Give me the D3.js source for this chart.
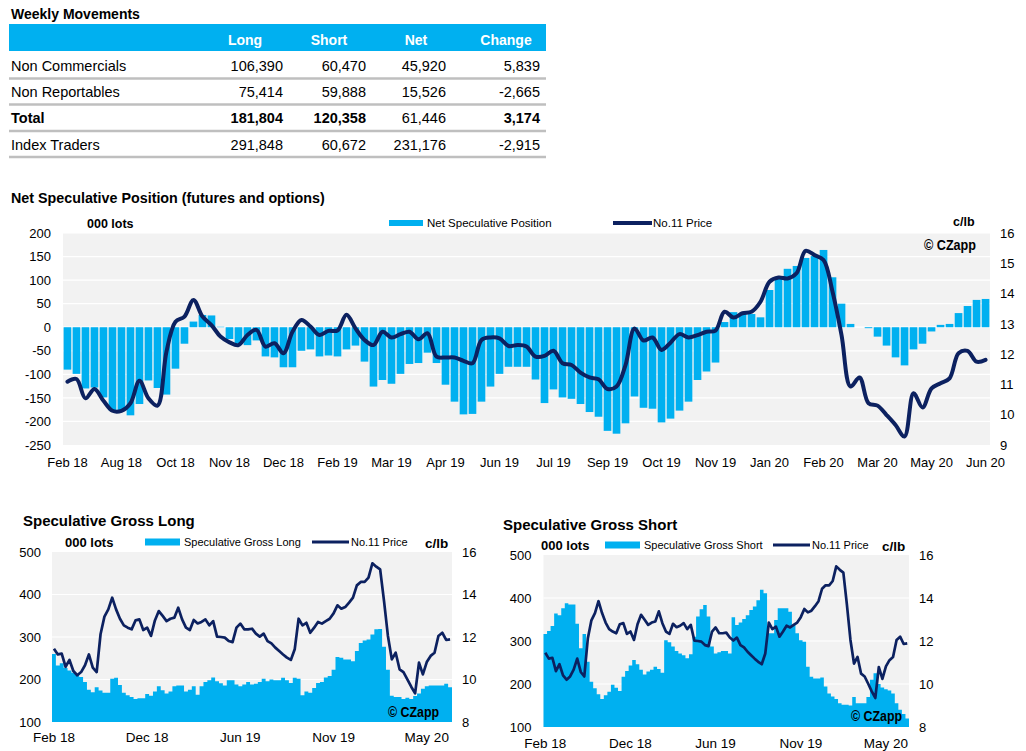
<!DOCTYPE html>
<html><head><meta charset="utf-8">
<script src="https://cdn.jsdelivr.net/npm/d3@7"></script>
<style>
body{margin:0;background:#fff;}
svg{display:block;font-family:"Liberation Sans",Arial,sans-serif;}
</style></head><body>
<svg id="c" width="1026" height="751"></svg>
<script>
// ---------------- DATA ----------------
const tableColumns = ["Long","Short","Net","Change"];
const tableRows = ["Non Commercials","Non Reportables","Total","Index Traders"];
const tableLong   = [106390, 75414, 181804, 291848];
const tableShort  = [60470, 59888, 120358, 60672];
const tableNet    = [45920, 15526, 61446, 231176];
const tableChange = [5839, -2665, 3174, -2915];

const mainTickLabels = ["Feb 18","Aug 18","Oct 18","Nov 18","Dec 18","Feb 19","Mar 19","Apr 19","Jun 19",
  "Jul 19","Sep 19","Oct 19","Nov 19","Jan 20","Feb 20","Mar 20","May 20","Jun 20"];
const grossTickLabels = ["Feb 18","Dec 18","Jun 19","Nov 19","May 20"];

// Net speculative position, 000 lots (weekly)
const netPosition = [-90,-99,-130,-128,-149,-177,-177,-187,-163,-113,
 -129,-143,-88,-35,12,26,25,1,-25,-35,
 -38,-28,-62,-64,-85,-85,-50,-47,-62,-60,
 -62,-47,-39,-73,-126,-112,-120,-99,-78,-76,
 -54,-76,-122,-158,-185,-184,-158,-126,-99,-84,
 -84,-84,-111,-161,-132,-149,-152,-163,-180,-190,
 -220,-226,-204,-147,-171,-173,-202,-194,-177,-158,
 -112,-94,-75,11,32,28,28,21,79,103,
 124,130,147,151,164,106,50,7,0,-2,
 -20,-39,-64,-81,-47,-35,-9,5,7,30,
 45,58,60];
// No.11 price c/lb (main chart)
const priceMain = [11.09,11.18,10.54,10.85,10.46,10.13,10.13,10.38,11.12,10.54,
 10.30,12.08,13.07,13.24,13.79,13.24,12.96,12.58,12.39,12.30,
 12.63,12.80,12.25,12.36,12.03,12.74,13.13,12.91,12.63,12.77,
 12.78,13.30,12.85,12.47,12.30,12.74,12.55,12.66,12.74,12.49,
 12.69,11.92,11.89,11.89,11.78,11.70,12.47,12.55,12.52,12.27,
 12.30,12.25,11.92,11.94,12.11,11.70,11.64,11.39,11.23,11.17,
 10.85,10.93,11.64,12.85,12.45,12.55,12.14,12.38,12.66,12.55,
 12.63,12.74,12.78,13.40,13.21,13.35,13.40,13.73,14.39,14.53,
 14.50,14.67,15.41,15.27,15.11,14.06,12.63,10.93,11.23,10.38,
 10.30,9.99,9.66,9.28,10.71,10.24,10.87,11.04,11.20,12.03,
 12.11,11.75,11.81];
// Speculative gross long, 000 lots
const grossLong = [260,233,238,227,221,216,212,206,194,176,
 170,182,174,169,169,202,204,187,169,163,
 159,154,156,156,166,162,172,184,175,167,
 172,184,186,186,172,176,184,164,184,194,
 198,205,196,191,186,198,198,188,184,188,
 194,188,190,194,202,196,200,198,198,204,
 198,192,204,202,163,172,169,180,192,194,
 205,208,223,253,251,247,247,243,267,286,
 292,294,306,318,319,277,223,162,159,159,
 154,157,154,161,167,178,184,186,186,186,
 186,190,182];
// Speculative gross short, 000 lots
const grossShort = [316,323,335,364,360,376,388,385,385,340,
 283,316,252,205,190,176,165,174,182,198,
 191,184,217,230,243,256,246,233,222,229,
 233,240,235,226,302,297,287,277,271,267,
 260,269,310,357,374,384,357,287,271,274,
 277,277,271,355,337,343,351,360,372,380,
 395,419,411,318,318,349,376,376,376,368,
 337,318,302,298,240,217,213,213,215,194,
 178,171,165,155,152,152,150,170,155,155,
 155,170,210,225,200,192,188,185,178,155,
 140,130,120];
// No.11 price c/lb (gross charts)
const priceGross = [11.45,11.18,11.22,10.60,10.92,10.40,10.20,10.35,10.67,11.18,
 10.56,10.35,12.13,12.96,13.30,13.85,13.30,12.86,12.55,12.44,
 12.36,12.78,12.83,12.33,12.44,12.05,12.78,13.22,12.99,12.75,
 12.86,12.91,13.38,12.83,12.44,12.33,12.80,12.64,12.71,12.83,
 12.55,12.75,12.02,12.00,11.97,11.81,11.76,12.44,12.63,12.36,
 12.36,12.39,12.16,12.02,12.16,11.81,11.70,11.50,11.34,11.18,
 11.03,10.92,11.42,12.86,12.55,12.67,12.20,12.44,12.71,12.63,
 12.75,12.86,13.11,13.49,13.33,13.41,13.62,13.85,14.43,14.59,
 14.59,14.79,15.47,15.31,15.18,13.69,12.05,10.95,11.26,10.48,
 10.35,10.01,9.66,9.35,10.79,10.24,10.82,11.11,11.26,12.05,
 12.20,11.86,11.89];

// ---------------- STYLE ----------------
const BLUE = "#00B0F0", NAVY = "#0C2160", BG = "#F2F2F2", GRID = "#FFFFFF";
const svg = d3.select("#c");

function txt(x, y, s, opt = {}) {
  const t = svg.append("text").attr("x", x).attr("y", y)
    .attr("font-size", opt.size || 13)
    .attr("font-weight", opt.bold ? "bold" : "normal")
    .attr("text-anchor", opt.anchor || "start")
    .attr("fill", opt.fill || "#000")
    .text(s);
  if (opt.len) t.attr("textLength", opt.len).attr("lengthAdjust", "spacingAndGlyphs");
  return t;
}
function styleAxis(g, size) {
  g.select(".domain").remove();
  g.selectAll("line").remove();
  g.selectAll("text").attr("font-size", size).attr("fill", "#000")
    .style("font-family", '"Liberation Sans", Arial, sans-serif');
}
const fmtNum = d3.format(",");
const fmt = v => (v < 0 ? "-" : "") + fmtNum(Math.abs(v));
const plain = d => String(d);

// ---------------- TABLE ----------------
txt(11, 19, "Weekly Movements", {bold: true, size: 14});
svg.append("rect").attr("x", 9).attr("y", 24).attr("width", 537).attr("height", 27).attr("fill", BLUE);
const headCenter = [245, 329, 416, 506];
const colRight = [283, 366, 446, 540];
tableColumns.forEach((c, j) => txt(headCenter[j], 45, c, {bold: true, size: 14, anchor: "middle", fill: "#fff"}));
const rowBase = [71, 97, 123, 150];
const rowLine = [78.5, 104.5, 131, 157];
const cols = [tableLong, tableShort, tableNet, tableChange];
tableRows.forEach((r, i) => {
  const isTotal = r === "Total";
  txt(11, rowBase[i], r, {size: 14.5, bold: isTotal});
  cols.forEach((arr, j) => {
    txt(colRight[j], rowBase[i], fmt(arr[i]), {size: 14.5, anchor: "end", bold: isTotal && j !== 2});
  });
  svg.append("line").attr("x1", 9).attr("x2", 546).attr("y1", rowLine[i]).attr("y2", rowLine[i])
    .attr("stroke", "#BFBFBF").attr("stroke-width", 2.5);
});

// ---------------- MAIN CHART ----------------
(function () {
  const L = 63, R = 990, T = 233, B = 445;
  txt(11, 203, "Net Speculative Position (futures and options)", {bold: true, size: 14.3});
  txt(87, 228, "000 lots", {bold: true, size: 12.5});
  txt(953, 226, "c/lb", {bold: true, size: 12.5});
  // legend
  svg.append("rect").attr("x", 389).attr("y", 220).attr("width", 34).attr("height", 6).attr("fill", BLUE);
  txt(427, 227, "Net Speculative Position", {size: 11.5});
  svg.append("line").attr("x1", 613).attr("x2", 652).attr("y1", 223).attr("y2", 223)
    .attr("stroke", NAVY).attr("stroke-width", 4);
  txt(653, 227, "No.11 Price", {size: 11.5});

  const x = d3.scaleBand().domain(d3.range(netPosition.length)).range([L, R]).paddingInner(0.15).paddingOuter(0.07);
  const y = d3.scaleLinear().domain([-250, 200]).range([B, T]);
  const y2 = d3.scaleLinear().domain([9, 16]).range([B, T]);

  svg.append("rect").attr("x", L).attr("y", T).attr("width", R - L).attr("height", B - T).attr("fill", BG);
  svg.append("g").selectAll("line").data(d3.range(-200, 201, 50)).join("line")
    .attr("x1", L).attr("x2", R).attr("y1", d => y(d)).attr("y2", d => y(d))
    .attr("stroke", GRID).attr("stroke-width", 1.2);

  svg.append("g").selectAll("rect").data(netPosition).join("rect")
    .attr("x", (d, i) => x(i)).attr("width", x.bandwidth())
    .attr("y", d => Math.min(y(0), y(d))).attr("height", d => Math.abs(y(d) - y(0)))
    .attr("fill", BLUE);

  const line = d3.line().x((d, i) => x(i) + x.bandwidth() / 2).y(d => y2(d)).curve(d3.curveCatmullRom.alpha(0.5));
  svg.append("path").datum(priceMain).attr("d", line).attr("fill", "none")
    .attr("stroke", NAVY).attr("stroke-width", 4).attr("stroke-linejoin", "round").attr("stroke-linecap", "round");

  txt(924, 250, "© CZapp", {bold: true, size: 14, len: 52});

  styleAxis(svg.append("g").attr("transform", `translate(${L},0)`)
    .call(d3.axisLeft(y).tickValues(d3.range(-250, 201, 50)).tickFormat(plain).tickSize(0).tickPadding(12)), 13);
  styleAxis(svg.append("g").attr("transform", `translate(${R},0)`)
    .call(d3.axisRight(y2).tickValues(d3.range(9, 17)).tickFormat(plain).tickSize(0).tickPadding(10)), 13);
  const tickIdx = mainTickLabels.map((d, k) => k * 6);
  styleAxis(svg.append("g").attr("transform", `translate(0,${B})`)
    .call(d3.axisBottom(x).tickValues(tickIdx).tickFormat((d) => mainTickLabels[d / 6]).tickSize(0).tickPadding(13)), 13);
})();

// ---------------- GROSS CHARTS ----------------
function grossChart(cfg) {
  const {L, R, T, B, values, title, legendName} = cfg;
  txt(cfg.titleX, cfg.titleY, title, {bold: true, size: 15});
  txt(cfg.lotsX, cfg.legY + 4.5, "000 lots", {bold: true, size: 13});
  svg.append("rect").attr("x", cfg.legRectX).attr("y", cfg.legY - 3.5).attr("width", 35).attr("height", 7).attr("fill", BLUE);
  txt(cfg.legRectX + 39, cfg.legY + 4, legendName, {size: 11});
  svg.append("line").attr("x1", cfg.legLineX).attr("x2", cfg.legLineX + 37).attr("y1", cfg.legY).attr("y2", cfg.legY)
    .attr("stroke", NAVY).attr("stroke-width", 3);
  txt(cfg.legLineX + 39, cfg.legY + 4, "No.11 Price", {size: 11});
  txt(cfg.clbX, cfg.legY + 6, "c/lb", {bold: true, size: 13.5});

  const x = d3.scaleBand().domain(d3.range(values.length)).range([L, R]).padding(0);
  const y = d3.scaleLinear().domain([100, 500]).range([B, T]);
  const y2 = d3.scaleLinear().domain([8, 16]).range([B, T]);

  svg.append("rect").attr("x", L).attr("y", T).attr("width", R - L).attr("height", B - T).attr("fill", BG);
  svg.append("g").selectAll("line").data([200, 300, 400]).join("line")
    .attr("x1", L).attr("x2", R).attr("y1", d => y(d)).attr("y2", d => y(d))
    .attr("stroke", GRID).attr("stroke-width", 1.2);
  // step area built from the bar values (zero-gap columns)
  const area = d3.area()
    .x(d => d.x).y0(y(100)).y1(d => y(d.v))
    .curve(d3.curveStepAfter);
  const pts = values.map((v, i) => ({x: x(i), v}));
  pts.push({x: R, v: values[values.length - 1]});
  svg.append("path").datum(pts).attr("d", area).attr("fill", BLUE);

  const line = d3.line().x((d, i) => x(i) + x.bandwidth() / 2).y(d => y2(d));
  svg.append("path").datum(priceGross).attr("d", line).attr("fill", "none")
    .attr("stroke", NAVY).attr("stroke-width", 2.7).attr("stroke-linejoin", "round");

  txt(cfg.czX, cfg.czY, "© CZapp", {bold: true, size: 15, len: 51});

  styleAxis(svg.append("g").attr("transform", `translate(${L},0)`)
    .call(d3.axisLeft(y).tickValues([100, 200, 300, 400, 500]).tickFormat(plain).tickSize(0).tickPadding(cfg.padL)), 13);
  styleAxis(svg.append("g").attr("transform", `translate(${R},0)`)
    .call(d3.axisRight(y2).tickValues([8, 10, 12, 14, 16]).tickFormat(plain).tickSize(0).tickPadding(10)), 13);
  const tickIdx = grossTickLabels.map((d, k) => k * 24);
  styleAxis(svg.append("g").attr("transform", `translate(0,${B})`)
    .call(d3.axisBottom(x).tickValues(tickIdx).tickFormat(d => grossTickLabels[d / 24]).tickSize(0).tickPadding(cfg.padB)), 13.5);
}

grossChart({L: 52, R: 452, T: 552, B: 722, values: grossLong,
  title: "Speculative Gross Long", legendName: "Speculative Gross Long",
  titleX: 23, titleY: 526, lotsX: 65, legY: 542, legRectX: 145, legLineX: 312, clbX: 425,
  czX: 388, czY: 717, padL: 11, padB: 10});
grossChart({L: 543.5, R: 909, T: 555, B: 727, values: grossShort,
  title: "Speculative Gross Short", legendName: "Speculative Gross Short",
  titleX: 503, titleY: 530, lotsX: 541, legY: 545, legRectX: 605, legLineX: 773, clbX: 882,
  czX: 851, czY: 721, padL: 12, padB: 11});
</script></body></html>
